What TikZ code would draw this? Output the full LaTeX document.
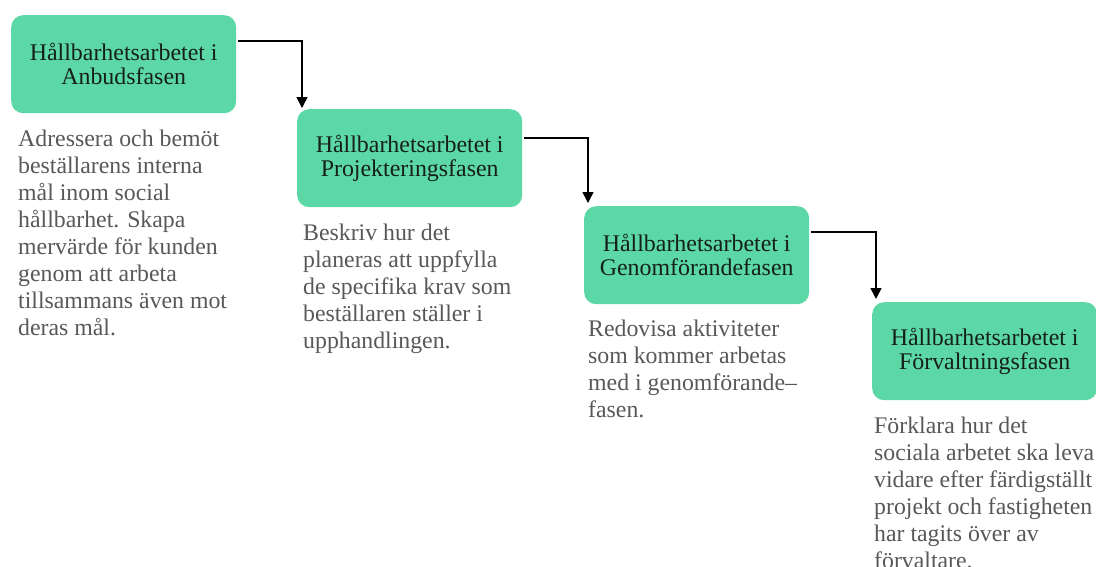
\documentclass[tikz,border=0pt]{standalone}
\usepackage{fontspec}
\setmainfont{Liberation Serif}
\usetikzlibrary{arrows.meta,calc}
\definecolor{boxgreen}{RGB}{92,216,166}
\definecolor{bodygray}{RGB}{88,88,88}
\definecolor{headink}{RGB}{22,32,27}
\begin{document}
\begin{tikzpicture}[x=1pt,y=-1pt,
  phase/.style={fill=boxgreen, rounded corners=12pt, minimum width=225pt, minimum height=98pt,
    anchor=north west, align=center, text=headink, font=\fontsize{23.9}{24}\selectfont, inner sep=0pt},
  desc/.style={anchor=north west, align=left, text=bodygray, font=\fontsize{23.8}{27}\selectfont, inner sep=0pt},
  flow/.style={draw=black, line width=1.5pt, -{Triangle[length=11pt,width=11pt]}}]
\useasboundingbox (0,0) rectangle (1096,566);

\node[phase] (b1) at (11,15) {Hållbarhetsarbetet i\\Anbudsfasen};
\node[phase] (b2) at (297,109) {Hållbarhetsarbetet i\\Projekteringsfasen};
\node[phase] (b3) at (584,206) {Hållbarhetsarbetet i\\Genomförandefasen};
\node[phase] (b4) at (872,302) {Hållbarhetsarbetet i\\Förvaltningsfasen};

\node[desc] (d1) at ([shift={(7,16.5)}]b1.south west) {Adressera och bemöt\\beställarens interna\\mål inom social\\hållbarhet. Skapa\\mervärde för kunden\\genom att arbeta\\tillsammans även mot\\deras mål.};
\node[desc] (d2) at ([shift={(6,16.5)}]b2.south west) {Beskriv hur det\\planeras att uppfylla\\de specifika krav som\\beställaren ställer i\\upphandlingen.};
\node[desc] (d3) at ([shift={(4,15)}]b3.south west) {Redovisa aktiviteter\\som kommer arbetas\\med i genomförande–\\fasen.};
\node[desc] (d4) at ([shift={(2,16.5)}]b4.south west) {Förklara hur det\\sociala arbetet ska leva\\vidare efter färdigställt\\projekt och fastigheten\\har tagits över av\\förvaltare.};

\draw[flow] ([shift={(2,26)}]b1.north east) -| ([shift={(5,-1)}]b2.north west);
\draw[flow] ([shift={(2,29)}]b2.north east) -| ([shift={(4,-3)}]b3.north west);
\draw[flow] ([shift={(2,26)}]b3.north east) -| ([shift={(4,-3)}]b4.north west);
\end{tikzpicture}
\end{document}
